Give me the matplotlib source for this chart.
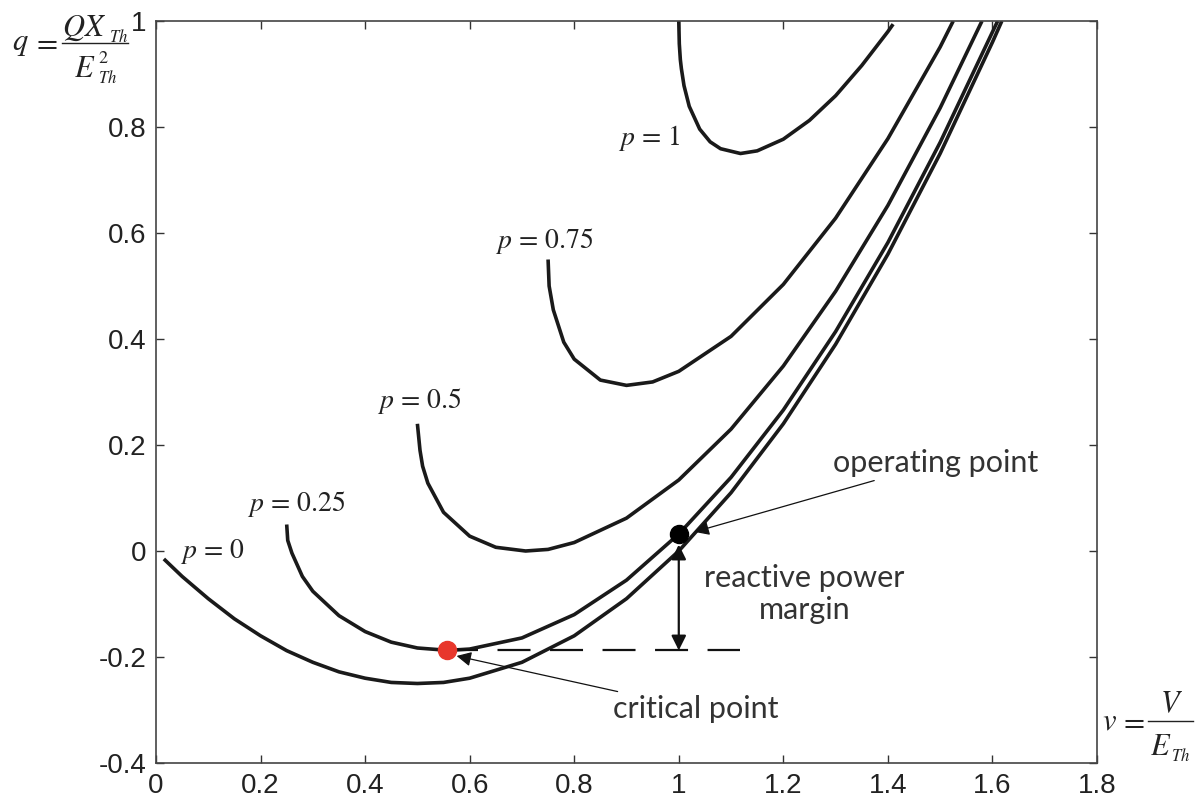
import numpy as np
import matplotlib
matplotlib.use("Agg")
import matplotlib.pyplot as plt
from matplotlib.lines import Line2D

plt.rcParams["mathtext.fontset"] = "stix"
plt.rcParams["font.family"] = ["Liberation Sans", "DejaVu Sans"]

# QV curves: v = V/E_Th, q = Q X_Th / E_Th^2
p0_v = [0.015, 0.05, 0.10, 0.15, 0.20, 0.25, 0.30, 0.35, 0.40, 0.45, 0.50, 0.55, 0.60,
        0.70, 0.80, 0.90, 1.00, 1.10, 1.20, 1.30, 1.40, 1.50, 1.60, 1.618]
p0_q = [-0.015, -0.048, -0.09, -0.128, -0.16, -0.188, -0.21, -0.228, -0.24, -0.248, -0.25,
        -0.248, -0.24, -0.21, -0.16, -0.09, 0.0, 0.11, 0.24, 0.39, 0.56, 0.75, 0.96, 1.0]

p025_v = [0.25, 0.252, 0.26, 0.28, 0.30, 0.35, 0.40, 0.45, 0.50, 0.559, 0.60, 0.70, 0.80,
          0.90, 1.00, 1.10, 1.20, 1.30, 1.40, 1.50, 1.61]
p025_q = [0.05, 0.02, -0.004, -0.048, -0.076, -0.122, -0.152, -0.172, -0.183, -0.1875,
          -0.185, -0.164, -0.12, -0.055, 0.032, 0.139, 0.266, 0.414, 0.582, 0.771, 1.0]

p05_v = [0.50, 0.505, 0.51, 0.52, 0.55, 0.60, 0.65, 0.707, 0.75, 0.80, 0.90, 1.00, 1.10,
         1.20, 1.30, 1.40, 1.50, 1.58]
p05_q = [0.24, 0.19, 0.16, 0.128, 0.073, 0.028, 0.007, 0.0, 0.003, 0.016, 0.062, 0.134,
         0.23, 0.349, 0.49, 0.652, 0.836, 1.0]

p075_v = [0.75, 0.752, 0.76, 0.78, 0.80, 0.85, 0.90, 0.95, 1.00, 1.10, 1.20, 1.30, 1.40,
          1.50, 1.525]
p075_q = [0.55, 0.50, 0.455, 0.394, 0.362, 0.3225, 0.3125, 0.319, 0.339, 0.405, 0.503,
          0.628, 0.778, 0.951, 1.0]

p1_v = [1.0, 1.001, 1.003, 1.005, 1.01, 1.02, 1.04, 1.06, 1.08, 1.118, 1.15, 1.20, 1.25,
        1.30, 1.35, 1.40, 1.41]
p1_q = [1.0, 0.957, 0.927, 0.91, 0.878, 0.839, 0.796, 0.772, 0.759, 0.75, 0.755, 0.777,
        0.8125, 0.859, 0.916, 0.98, 0.994]

curves = [(p0_v, p0_q), (p025_v, p025_q), (p05_v, p05_q), (p075_v, p075_q), (p1_v, p1_q)]

curve_labels = [r"$p\,=\,0$", r"$p\,=\,0.25$", r"$p\,=\,0.5$", r"$p\,=\,0.75$", r"$p\,=\,1$"]
label_v = [0.046, 0.174, 0.423, 0.648, 0.883]
label_q = [0.0, 0.089, 0.283, 0.585, 0.779]

operating_point = (1.0, 0.032)
critical_point = (0.557, -0.1875)
margin_start_v = 0.553
margin_end_v = 1.117

W, H = 1198, 801
fig = plt.figure(figsize=(W / 100, H / 100), dpi=100)
ax = fig.add_axes([156 / W, 1 - 763 / H, 941 / W, 742 / H])

line_color = "#1a1a1a"
for v, q in curves:
    ax.plot(v, q, color=line_color, lw=2.6, solid_joinstyle="round", solid_capstyle="butt")

for txt, x, y in zip(curve_labels, label_v, label_q):
    ax.text(x, y, txt, fontsize=20, ha="left", va="center", color="#222222")

# critical level (dashed) and reactive power margin
ax.plot([margin_start_v, margin_end_v], [critical_point[1], critical_point[1]],
        color="#111111", lw=1.6, dashes=(14.85, 8.78))
ax.annotate("", xy=(operating_point[0], 0.012), xytext=(operating_point[0], critical_point[1]),
            arrowprops=dict(arrowstyle="<|-|>", lw=1.6, color="#111111",
                            mutation_scale=22, shrinkA=0, shrinkB=0))

ax.plot(*operating_point, "o", color="black", ms=13, zorder=5)
ax.plot(*critical_point, "o", color="#e8372c", ms=13, zorder=5)

ann_font = dict(family=["Lato", "DejaVu Sans"], fontsize=22, color="#333333")
ax.annotate("operating point", xy=(1.03, 0.036), xytext=(1.295, 0.166),
            ha="left", va="center",
            arrowprops=dict(arrowstyle="-|>", lw=0.9, color="#111111", mutation_scale=22,
                            shrinkA=2, shrinkB=0), **ann_font)
ax.annotate("critical point", xy=(0.575, -0.198), xytext=(0.875, -0.298),
            ha="left", va="center",
            arrowprops=dict(arrowstyle="-|>", lw=0.9, color="#111111", mutation_scale=22,
                            shrinkA=2, shrinkB=0), **ann_font)
ax.text(1.24, -0.081, "reactive power\nmargin", ha="center", va="center",
        linespacing=1.2, **ann_font)

ax.set_xlim(0, 1.8)
ax.set_ylim(-0.4, 1.0)
ax.set_xticks(np.arange(0, 1.81, 0.2))
ax.set_yticks(np.arange(-0.4, 1.01, 0.2))
ax.set_xticklabels(["0", "0.2", "0.4", "0.6", "0.8", "1", "1.2", "1.4", "1.6", "1.8"])
ax.set_yticklabels(["-0.4", "-0.2", "0", "0.2", "0.4", "0.6", "0.8", "1"])
ax.tick_params(direction="in", length=6, width=1, top=True, right=True,
               labelsize=20, colors="#333333", labelcolor="#222222", pad=7)
for s in ax.spines.values():
    s.set_color("#444444")
    s.set_linewidth(1.2)


# axis labels built piece by piece (pixel positions, y measured from the top)
def put(txt, x, y, size, ha="left", va="baseline"):
    fig.text(x / W, 1 - y / H, txt, fontsize=size, ha=ha, va=va, color="#222222")


def bar(x0, x1, y):
    fig.add_artist(Line2D([x0 / W, x1 / W], [1 - y / H, 1 - y / H], color="#222222", lw=1.0))


# q = Q X_Th / E_Th^2
put(r"$q$", 12, 50, 22)
put(r"$=$", 45, 43, 22, ha="center", va="center")
bar(62, 128, 43)
put(r"$QX$", 62, 36, 22)
put(r"$Th$", 109, 42, 12)
put(r"$E$", 74, 77, 22)
put(r"$2$", 98, 63, 13)
put(r"$Th$", 98, 83, 12)

# v = V / E_Th
put(r"$v$", 1102, 729, 22)
put(r"$=$", 1132, 722, 22, ha="center", va="center")
bar(1148, 1193, 721)
put(r"$V$", 1171, 712, 22, ha="center")
put(r"$E$", 1150, 755, 22)
put(r"$Th$", 1171, 761, 12)

fig.savefig("out.png", dpi=100)
